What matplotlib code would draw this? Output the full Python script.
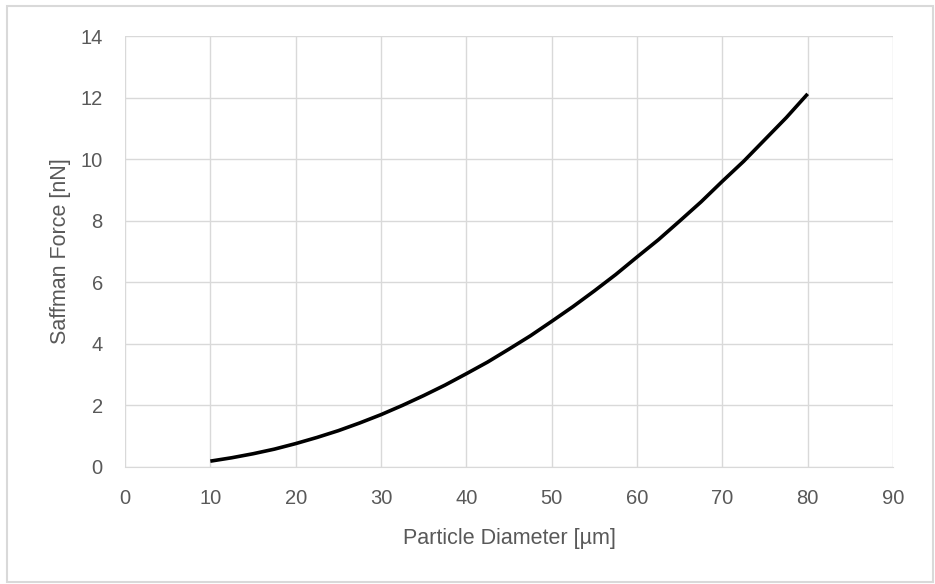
import matplotlib.pyplot as plt
from matplotlib.patches import Rectangle

# particle diameter [um] and saffman force [nN]
diameter = [10, 12.5, 15, 17.5, 20, 22.5, 25, 27.5, 30, 32.5, 35, 37.5, 40, 42.5, 45,
            47.5, 50, 52.5, 55, 57.5, 60, 62.5, 65, 67.5, 70, 72.5, 75, 77.5, 80]
force = [0.19, 0.30, 0.43, 0.58, 0.76, 0.96, 1.18, 1.43, 1.70, 2.00, 2.32, 2.66, 3.03, 3.41, 3.83,
         4.26, 4.73, 5.21, 5.72, 6.25, 6.82, 7.38, 7.99, 8.61, 9.28, 9.93, 10.64, 11.35, 12.12]

x_ticks = [0, 10, 20, 30, 40, 50, 60, 70, 80, 90]
y_ticks = [0, 2, 4, 6, 8, 10, 12, 14]

grey = '#595959'
grid = '#d9d9d9'
plt.rcParams['font.family'] = ['Liberation Sans', 'DejaVu Sans']

fig = plt.figure(figsize=(9.35, 5.84), dpi=100)
ax = fig.add_axes([125/935, 1 - 467/584, (893-125)/935, (467-36)/584])

ax.plot(diameter, force, color='black', linewidth=2.6, solid_capstyle='butt', zorder=3)

ax.set_xlim(0, 90)
ax.set_ylim(0, 14)
ax.set_xticks(x_ticks)
ax.set_yticks(y_ticks)
ax.grid(True, color=grid, linewidth=1)
for s in ax.spines.values():
    s.set_visible(False)
ax.spines['bottom'].set_visible(True)
ax.spines['bottom'].set_color(grid)
ax.tick_params(length=0, colors=grey, labelsize=14.5)
ax.tick_params(axis='x', pad=16)
ax.tick_params(axis='y', pad=16)
ax.set_xlabel('Particle Diameter [µm]', color=grey, fontsize=15.5, labelpad=14)
ax.set_ylabel('Saffman Force [nN]', color=grey, fontsize=15.5, labelpad=7)

# chart border
fig.patches.append(Rectangle((7/935, 2/584), 926/935, 576/584, transform=fig.transFigure,
                             fill=False, edgecolor=grid, linewidth=1.5))

fig.savefig('out.png', dpi=100)
